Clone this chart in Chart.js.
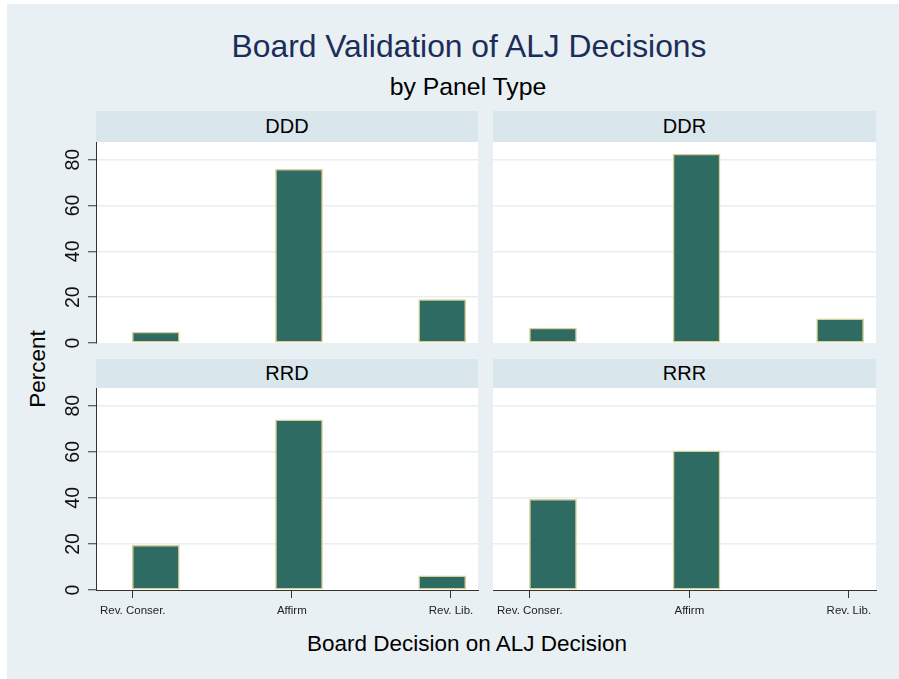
<!DOCTYPE html>
<html>
<head>
<meta charset="utf-8">
<script src="https://cdn.jsdelivr.net/npm/chart.js@4"></script>
<style>
  body { margin: 0; background: #fff; width: 899px; height: 679px; overflow: hidden; font-family: "Liberation Sans", Arial, sans-serif; }
  #bg { position: absolute; left: 7px; top: 4px; right: 0; bottom: 0; background: #e8f0f3; }
  .txt { position: absolute; transform: translate(-50%, -50%); white-space: nowrap; line-height: 1; color: #000; }
  .strip { position: absolute; background: #d9e6eb; font-size: 20px; display: flex; align-items: center; justify-content: center; }
  canvas { position: absolute; }
</style>
</head>
<body>
<div id="bg"></div>
<div class="txt" style="left:469px;top:47px;font-size:31.8px;color:#1c2d5a;">Board Validation of ALJ Decisions</div>
<div class="txt" style="left:468px;top:87px;font-size:24.8px;">by Panel Type</div>
<div class="txt" style="left:38px;top:369px;font-size:22.5px;transform:translate(-50%,-50%) rotate(-90deg);">Percent</div>
<div class="txt" style="left:467px;top:644px;font-size:22.5px;">Board Decision on ALJ Decision</div>

<div class="strip" style="left:96px;top:111px;width:382px;height:31px;" id="s0"></div>
<div class="strip" style="left:493px;top:111px;width:383px;height:31px;" id="s1"></div>
<div class="strip" style="left:96px;top:359px;width:382px;height:29px;" id="s2"></div>
<div class="strip" style="left:493px;top:359px;width:383px;height:29px;" id="s3"></div>

<canvas id="c0"></canvas>
<canvas id="c1"></canvas>
<canvas id="c2"></canvas>
<canvas id="c3"></canvas>

<script>
const panels = ["DDD", "DDR", "RRD", "RRR"];
const categories = ["Rev. Conser.", "Affirm", "Rev. Lib."];
const binMid = [1.145, 2.045, 2.945];
const tickPos = [1, 2, 3];
const dddValues = [4.8, 75.8, 18.9];
const ddrValues = [6.5, 82.4, 10.5];
const rrdValues = [19.4, 73.9, 6.2];
const rrrValues = [39.4, 60.4, 0];
const yTicks = [0, 20, 40, 60, 80];
const yMax = 87.7;

const panelValues = [dddValues, ddrValues, rrdValues, rrrValues];

// plot areas: left, top, right, bottom
const boxes = [
	[96, 142, 478, 343],
	[493, 142, 876, 343],
	[96, 388, 478, 590],
	[493, 388, 876, 590],
];

Chart.defaults.font.family = '"Liberation Sans", Arial, sans-serif';

const plotBg = {
	id: "plotBg",
	beforeDraw(chart) {
		const a = chart.chartArea;
		chart.ctx.save();
		chart.ctx.fillStyle = "#ffffff";
		chart.ctx.fillRect(a.left, a.top, a.right - a.left, a.bottom - a.top);
		chart.ctx.restore();
	},
};

// stata style vertical tick labels on the y axis
const yLabels = {
	id: "yLabels",
	afterDraw(chart) {
		const sc = chart.scales.y;
		const ctx = chart.ctx;
		ctx.save();
		ctx.fillStyle = "#111";
		ctx.font = '19.5px "Liberation Sans", Arial, sans-serif';
		ctx.textAlign = "center";
		ctx.textBaseline = "middle";
		yTicks.forEach((v) => {
			ctx.save();
			ctx.translate(chart.chartArea.left - 22, sc.getPixelForValue(v));
			ctx.rotate(-Math.PI / 2);
			ctx.fillText(String(v), 0, 0);
			ctx.restore();
		});
		ctx.restore();
	},
};

const isZero = (c) => c.raw && c.raw.y === 0;

panels.forEach((name, p) => {
	document.getElementById("s" + p).textContent = name;
	const [L, T, R, B] = boxes[p];
	const showY = p % 2 === 0;
	const showX = p >= 2;
	const cv = document.getElementById("c" + p);
	const w = R - L + 70;
	const h = B - T + 52;
	cv.style.left = L - 60 + "px";
	cv.style.top = T - 12 + "px";
	cv.style.width = w + "px";
	cv.style.height = h + "px";
	cv.width = w;
	cv.height = h;

	new Chart(cv.getContext("2d"), {
		type: "bar",
		data: {
			datasets: [
				{
					label: name,
					data: panelValues[p].map((v, i) => ({ x: binMid[i], y: v })),
					backgroundColor: (c) => (isZero(c) ? "rgba(0,0,0,0)" : "#2e6b62"),
					borderColor: "#d8cf98",
					borderWidth: (c) => (isZero(c) ? 0 : 1.5),
					borderSkipped: false,
					barThickness: 47,
				},
			],
		},
		plugins: showY ? [plotBg, yLabels] : [plotBg],
		options: {
			responsive: false,
			animation: false,
			layout: { padding: { left: 0, top: 12, right: 10, bottom: showX ? 0 : 40 } },
			plugins: { legend: { display: false }, tooltip: { enabled: false } },
			scales: {
				x: {
					type: "linear",
					display: showX,
					offset: false,
					min: 0.769,
					max: 3.17,
					afterBuildTicks: (s) => {
						s.ticks = tickPos.map((v) => ({ value: v }));
					},
					afterFit: (s) => {
						s.height = showX ? 40 : 0;
					},
					ticks: {
						callback: (v, i) => categories[i],
						font: { size: 11.5 },
						color: "#222",
						padding: 6,
						maxRotation: 0,
						minRotation: 0,
						autoSkip: false,
					},
					grid: { display: true, offset: false, drawOnChartArea: false, drawTicks: true, tickLength: 8, tickColor: "#333", tickWidth: 1 },
					border: { display: true, color: "#333", width: 1 },
				},
				y: {
					type: "linear",
					min: 0,
					max: yMax,
					afterBuildTicks: (s) => {
						s.ticks = yTicks.map((v) => ({ value: v }));
					},
					afterFit: (s) => {
						s.width = 60;
					},
					ticks: { display: false },
					grid: {
						color: (c) => (c.tick && c.tick.value === 0 ? "rgba(0,0,0,0)" : "#e6eef1"),
						lineWidth: 1.5,
						drawTicks: showY,
						tickLength: showY ? 8 : 0,
						tickColor: "#333",
						tickWidth: 1,
					},
					border: { display: showY, color: "#333", width: 1 },
				},
			},
		},
	});
});
</script>
</body>
</html>
